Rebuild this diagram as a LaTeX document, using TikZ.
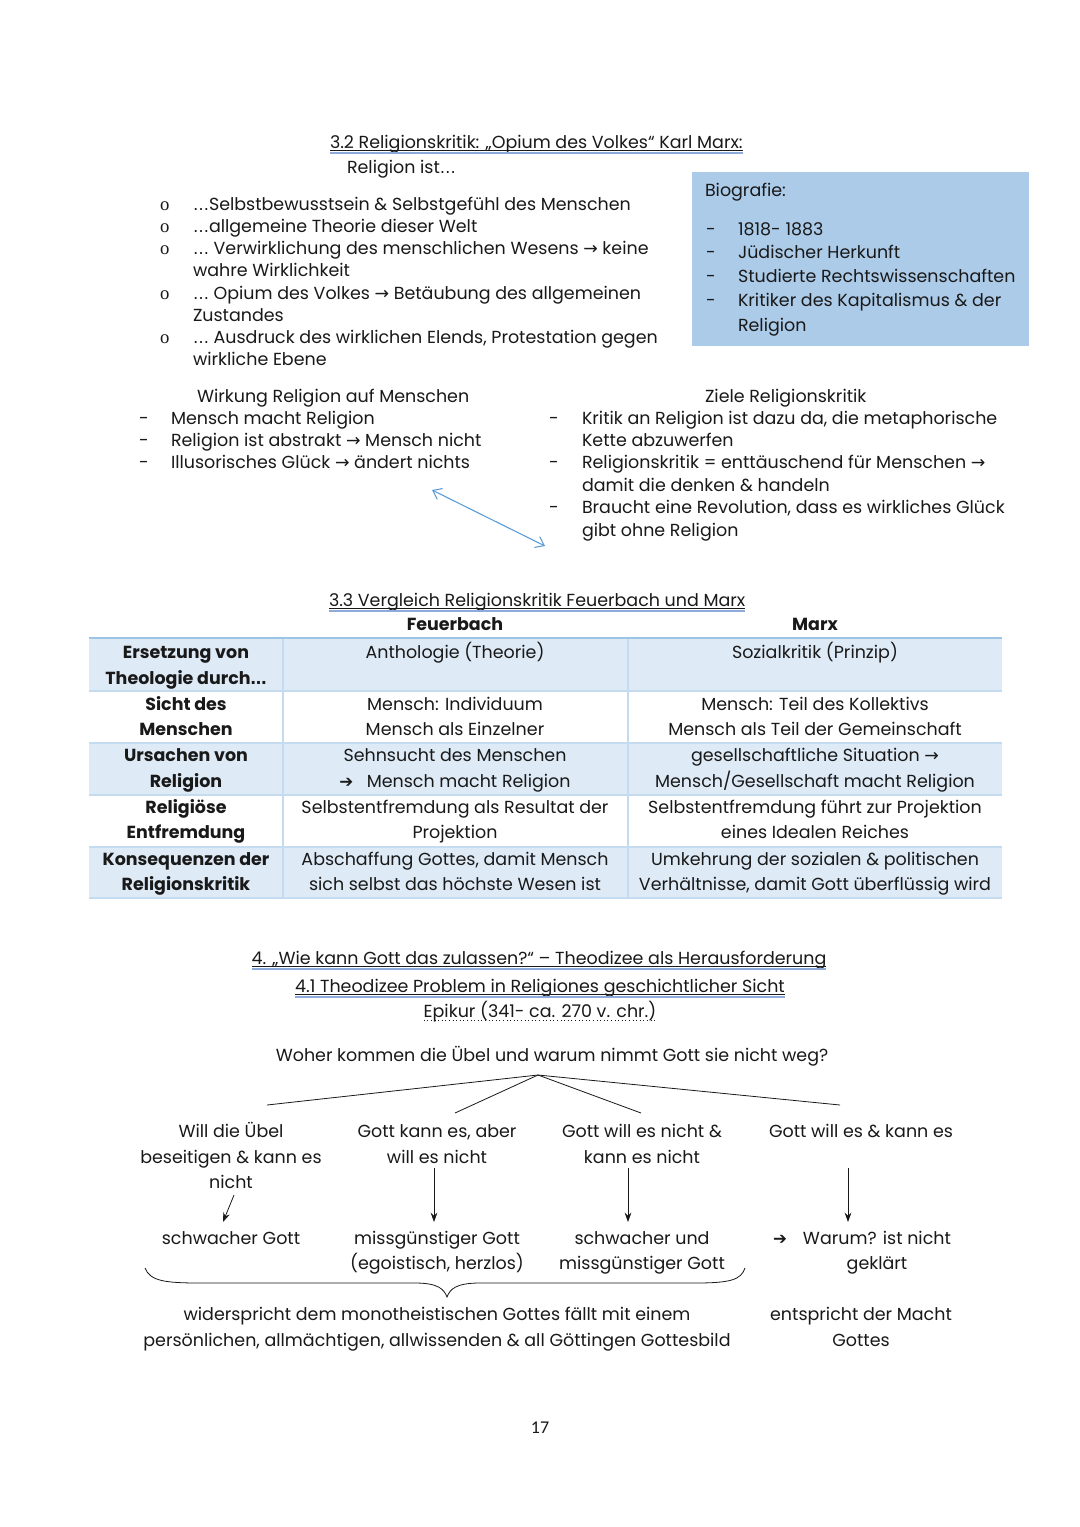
\documentclass[tikz,border=0pt]{standalone}
\usepackage{fontspec}
\setmainfont{Poppins}
\newfontfamily\calib{Carlito}
\newfontfamily\sym{DejaVu Sans}
\newfontfamily\bul{Liberation Serif}
\usetikzlibrary{arrows.meta}
\definecolor{ink}{RGB}{25,25,25}
\definecolor{biofill}{RGB}{172,203,233}
\definecolor{rowfill}{RGB}{222,234,246}
\definecolor{gridc}{RGB}{196,219,240}
\definecolor{headc}{RGB}{157,195,230}
\definecolor{arrowc}{RGB}{91,155,213}
\definecolor{ulc}{RGB}{142,170,219}
\newcommand\tf{\fontsize{13.1}{16}\selectfont}
\newcommand\ra{{\sym\fontsize{13}{16}\selectfont →}}
\newcommand\hra{{\sym\fontsize{12.5}{16}\selectfont ➔}}
\newcommand\el{{\sym\fontsize{12}{16}\selectfont …}}
\begin{document}
\begin{tikzpicture}[x=0.75pt,y=-0.75pt,
  every node/.style={inner sep=0pt,outer sep=0pt,text=ink},
  L/.style={anchor=base west,font=\tf},
  C/.style={anchor=base,font=\tf},
  B/.style={anchor=base,font=\tf\bfseries},
  dsh/.style={anchor=base west,font=\tf},
  obul/.style={anchor=base west,font=\bul\fontsize{14}{16}\selectfont},
  ul/.style={draw=ink,line width=0.45pt},
  ulb/.style={draw=ulc,line width=1.1pt},
  grid/.style={draw=gridc,line width=0.8pt},
  tree/.style={draw=ink,line width=0.6pt},
  arr/.style={draw=ink,line width=0.6pt,-{Stealth[length=7pt,width=5pt]}}]
\useasboundingbox[fill=white] (0,0) rectangle (1080,1527);

% ---------- 3.2 ----------
\node[L] (h32) at (330,148) {3.2 Religionskritik: „Opium des Volkes“ Karl Marx:};
\path[ul] ([yshift=-2pt]h32.base west) -- ([yshift=-2pt]h32.base east);
\path[ulb] ([yshift=-3.6pt]h32.base west) -- ([yshift=-3.6pt]h32.base east);
\node[L] (rel) at (347,173) {Religion ist\el};

\node[obul] (o1) at (160,210) {o};
\node[obul] (o2) at (160,232) {o};
\node[obul] (o3) at (160,254) {o};
\node[obul] (o4) at (160,299) {o};
\node[obul] (o5) at (160,343) {o};
\node[L] (r1) at (193,210) {\el Selbstbewusstsein \& Selbstgefühl des Menschen};
\node[L] (r2) at (193,232) {\el allgemeine Theorie dieser Welt};
\node[L] (r3) at (193,254) {\el{} Verwirklichung des menschlichen Wesens \ra{} keine};
\node[L] (r3b) at (193,276) {wahre Wirklichkeit};
\node[L] (r4) at (193,299) {\el{} Opium des Volkes \ra{} Betäubung des allgemeinen};
\node[L] (r4b) at (193,321) {Zustandes};
\node[L] (r5) at (193,343) {\el{} Ausdruck des wirklichen Elends, Protestation gegen};
\node[L] (r5b) at (193,365) {wirkliche Ebene};

% Biografie box
\fill[biofill] (692,172) rectangle (1029,346);
\node[L] (bio) at (705,196) {Biografie:};
\node[dsh] (bd1) at (706,235) {-};
\node[dsh] (bd2) at (706,258) {-};
\node[dsh] (bd3) at (706,282) {-};
\node[dsh] (bd4) at (706,306) {-};
\node[L] (b1) at (738,235) {1818- 1883};
\node[L] (b2) at (738,258) {Jüdischer Herkunft};
\node[L] (b3) at (738,282) {Studierte Rechtswissenschaften};
\node[L] (b4) at (738,306) {Kritiker des Kapitalismus \& der};
\node[L] (b4b) at (738,331) {Religion};

% Wirkung
\node[L] (wh) at (197,402) {Wirkung Religion auf Menschen};
\node[dsh] (wd1) at (139,424) {-};
\node[dsh] (wd2) at (139,446) {-};
\node[dsh] (wd3) at (139,468) {-};
\node[L] (w1) at (171,424) {Mensch macht Religion};
\node[L] (w2) at (171,446) {Religion ist abstrakt \ra{} Mensch nicht};
\node[L] (w3) at (171,468) {Illusorisches Glück \ra{} ändert nichts};

% Ziele
\node[L] (zh) at (705,402) {Ziele Religionskritik};
\node[dsh] (zd1) at (549,424) {-};
\node[dsh] (zd2) at (549,468) {-};
\node[dsh] (zd3) at (549,513) {-};
\node[L] (z1) at (582,424) {Kritik an Religion ist dazu da, die metaphorische};
\node[L] (z1b) at (582,446) {Kette abzuwerfen};
\node[L] (z2) at (582,468) {Religionskritik = enttäuschend für Menschen \ra};
\node[L] (z2b) at (582,491) {damit die denken \& handeln};
\node[L] (z3) at (582,513) {Braucht eine Revolution, dass es wirkliches Glück};
\node[L] (z3b) at (582,536) {gibt ohne Religion};

\coordinate (da1) at (432,490);
\coordinate (da2) at (545,546);
\draw[arrowc,line width=0.8pt,{Straight Barb[length=6pt,width=9pt]}-{Straight Barb[length=6pt,width=9pt]}] (da1) -- (da2);

% ---------- 3.3 ----------
\node[L] (h33) at (329,606) {3.3 Vergleich Religionskritik Feuerbach und Marx};
\path[ul] ([yshift=-2pt]h33.base west) -- ([yshift=-2pt]h33.base east);
\path[ulb] ([yshift=-3.6pt]h33.base west) -- ([yshift=-3.6pt]h33.base east);
\node[B] (tf) at (455,630) {Feuerbach};
\node[B] (tm) at (815,630) {Marx};

\fill[rowfill] (89,638) rectangle (1002,691);
\fill[rowfill] (89,743) rectangle (1002,795);
\fill[rowfill] (89,847) rectangle (1002,898);
\foreach \yy in {691,743,795,847,898} \path[grid] (89,\yy) -- (1002,\yy);
\path[grid] (283,638) -- (283,898);
\path[grid] (628,638) -- (628,898);
\path[draw=headc,line width=1.6pt] (89,638) -- (1002,638);

\node[B] (k1a) at (186,658) {Ersetzung von};
\node[B] (k1b) at (186,684) {Theologie durch\el};
\node[C] (f1) at (455,658) {Anthologie (Theorie)};
\node[C] (m1) at (815,658) {Sozialkritik (Prinzip)};

\node[B] (k2a) at (186,710) {Sicht des};
\node[B] (k2b) at (186,735) {Menschen};
\node[C] (f2a) at (455,710) {Mensch: Individuum};
\node[C] (f2b) at (455,735) {Mensch als Einzelner};
\node[C] (m2a) at (815,710) {Mensch: Teil des Kollektivs};
\node[C] (m2b) at (815,735) {Mensch als Teil der Gemeinschaft};

\node[B] (k3a) at (186,761) {Ursachen von};
\node[B] (k3b) at (186,787) {Religion};
\node[C] (f3a) at (455,761) {Sehnsucht des Menschen};
\node[C] (f3b) at (455,787) {\hra\hspace{10pt}Mensch macht Religion};
\node[C] (m3a) at (815,761) {gesellschaftliche Situation \ra};
\node[C] (m3b) at (815,787) {Mensch/Gesellschaft macht Religion};

\node[B] (k4a) at (186,813) {Religiöse};
\node[B] (k4b) at (186,838) {Entfremdung};
\node[C] (f4a) at (455,813) {Selbstentfremdung als Resultat der};
\node[C] (f4b) at (455,838) {Projektion};
\node[C] (m4a) at (815,813) {Selbstentfremdung führt zur Projektion};
\node[C] (m4b) at (815,838) {eines Idealen Reiches};

\node[B] (k5a) at (186,865) {Konsequenzen der};
\node[B] (k5b) at (186,890) {Religionskritik};
\node[C] (f5a) at (455,865) {Abschaffung Gottes, damit Mensch};
\node[C] (f5b) at (455,890) {sich selbst das höchste Wesen ist};
\node[C] (m5a) at (815,865) {Umkehrung der sozialen \& politischen};
\node[C] (m5b) at (815,890) {Verhältnisse, damit Gott überflüssig wird};

% ---------- 4 ----------
\node[C] (h4) at (539,964) {4. „Wie kann Gott das zulassen?“ – Theodizee als Herausforderung};
\path[ul] ([yshift=-2pt]h4.base west) -- ([yshift=-2pt]h4.base east);
\path[ulb] ([yshift=-3.6pt]h4.base west) -- ([yshift=-3.6pt]h4.base east);
\node[C] (h41) at (540,992) {4.1 Theodizee Problem in Religiones geschichtlicher Sicht};
\path[ul] ([yshift=-2pt]h41.base west) -- ([yshift=-2pt]h41.base east);
\path[ulb] ([yshift=-3.6pt]h41.base west) -- ([yshift=-3.6pt]h41.base east);
\node[C] (epi) at (540,1017) {Epikur (341- ca. 270 v. chr.)};
\path[draw=ink,line width=0.7pt,dotted] ([yshift=-2.6pt]epi.base west) -- ([yshift=-2.6pt]epi.base east);

\node[C] (q) at (552,1061) {Woher kommen die Übel und warum nimmt Gott sie nicht weg?};
\coordinate (apex) at (538,1075);
\coordinate (e1) at (267,1105);
\coordinate (e2) at (455,1113);
\coordinate (e3) at (641,1113);
\coordinate (e4) at (840,1105);
\path[tree] (apex) -- (e1);
\path[tree] (apex) -- (e2);
\path[tree] (apex) -- (e3);
\path[tree] (apex) -- (e4);

\node[C] (t1a) at (231,1137) {Will die Übel};
\node[C] (t1b) at (231,1163) {beseitigen \& kann es};
\node[C] (t1c) at (231,1188) {nicht};
\node[C] (t2a) at (437,1137) {Gott kann es, aber};
\node[C] (t2b) at (437,1163) {will es nicht};
\node[C] (t3a) at (642,1137) {Gott will es nicht \&};
\node[C] (t3b) at (642,1163) {kann es nicht};
\node[C] (t4a) at (861,1137) {Gott will es \& kann es};

\coordinate (a1s) at (234,1195);
\coordinate (a1e) at (223,1222);
\coordinate (a2s) at (434,1168);
\coordinate (a2e) at (434,1222);
\coordinate (a3s) at (628,1168);
\coordinate (a3e) at (628,1222);
\coordinate (a4s) at (848,1168);
\coordinate (a4e) at (848,1222);
\path[arr] (a1s) -- (a1e);
\path[arr] (a2s) -- (a2e);
\path[arr] (a3s) -- (a3e);
\path[arr] (a4s) -- (a4e);

\node[C] (s1) at (231,1244) {schwacher Gott};
\node[C] (s2a) at (437,1244) {missgünstiger Gott};
\node[C] (s2b) at (437,1269) {(egoistisch, herzlos)};
\node[C] (s3a) at (642,1244) {schwacher und};
\node[C] (s3b) at (642,1269) {missgünstiger Gott};
\node[L] (s4a) at (773,1244) {\hra\hspace{12pt}Warum? ist nicht};
\node[C] (s4b) at (877,1269) {geklärt};

% brace
\path[draw=ink,line width=0.6pt] (145,1268) .. controls (150,1281) and (165,1283) .. (200,1283)
  -- (415,1283) .. controls (438,1283) and (444,1289) .. (447,1297)
  .. controls (450,1289) and (456,1283) .. (480,1283)
  -- (695,1283) .. controls (730,1283) and (741,1280) .. (745,1268);

\node[C] (c1) at (437,1320) {widerspricht dem monotheistischen Gottes fällt mit einem};
\node[C] (c2) at (437,1346) {persönlichen, allmächtigen, allwissenden \& all Göttingen Gottesbild};
\node[C] (d1) at (861,1320) {entspricht der Macht};
\node[C] (d2) at (861,1346) {Gottes};

\node[anchor=base,font=\calib\fontsize{13.5}{16}\selectfont] (pg) at (540,1433) {17};
\end{tikzpicture}
\end{document}
